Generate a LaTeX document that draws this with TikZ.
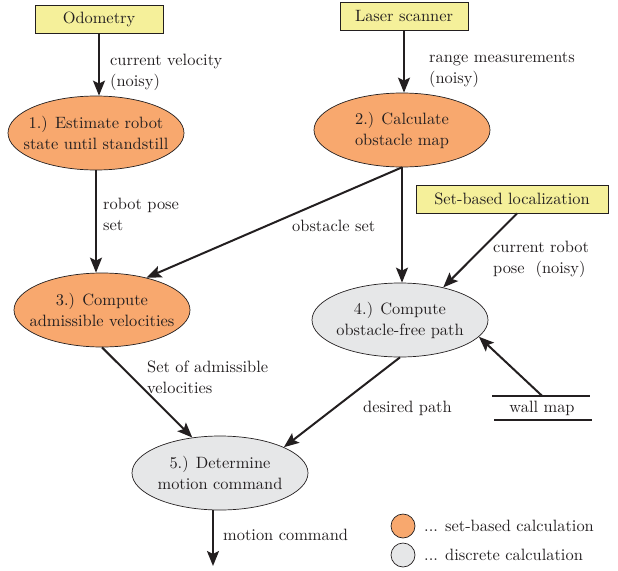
\documentclass[tikz,border=0pt]{standalone}
\usepackage{fontspec}
\setmainfont{lmroman10-regular}[Extension=.otf, BoldFont=lmroman10-bold, ItalicFont=lmroman10-italic]
\usetikzlibrary{arrows.meta,shapes.geometric,calc}
\definecolor{setorange}{RGB}{248,168,110}
\definecolor{discgray}{RGB}{230,231,232}
\definecolor{srcyellow}{RGB}{245,240,154}
\definecolor{ink}{RGB}{35,31,32}
\begin{document}
\begin{tikzpicture}[x=1pt,y=-1pt,
  every node/.style={font=\rmfamily\fontsize{16.4}{21}\selectfont, text=ink},
  srcbox/.style={draw=ink, line width=0.8pt, fill=srcyellow, minimum width=128pt, minimum height=28pt, inner xsep=8pt, inner ysep=0pt},
  proc/.style={ellipse, draw=ink, line width=0.7pt, minimum width=176pt, minimum height=74pt, inner xsep=-20pt, inner ysep=-4pt, align=center},
  setproc/.style={proc, fill=setorange},
  discproc/.style={proc, fill=discgray},
  lbl/.style={anchor=west, align=left, inner sep=0pt},
  flow/.style={draw=ink, line width=2pt, -{Stealth[length=15pt,width=12pt,inset=3pt]}},
  wallline/.style={draw=ink, line width=2pt}
]
\useasboundingbox (0,0) rectangle (618,570);

\node[srcbox] (odo) at (99,19) {Odometry};
\node[srcbox] (laser) at (404,16) {Laser scanner};
\node[srcbox, minimum width=192pt] (loc) at (512,199) {Set-based localization};

\node[setproc] (e1) at (96,133) {1.) Estimate robot\\state until standstill};
\node[setproc] (e2) at (402,130) {2.) Calculate\\obstacle map};
\node[setproc] (e3) at (102,310) {3.) Compute\\admissible velocities};
\node[discproc] (e4) at (400,320) {4.) Compute\\obstacle-free path};
\node[discproc] (e5) at (220,473) {5.) Determine\\motion command};

\node[minimum width=97pt, minimum height=24pt, inner sep=0pt] (wall) at (542,408) {wall map};
\draw[wallline] ($(wall.north west)+(-1,0)$) -- ($(wall.north east)+(-1,0)$);
\draw[wallline] ($(wall.south west)+(1,0)$) -- ($(wall.south east)+(1,0)$);

\coordinate (out) at (213,566);

% connectors
\draw[flow] (odo.south) -- (odo.south |- e1.north);
\draw[flow] (laser.south) -- (laser.south |- e2.north);
\draw[flow] (e1.south) -- (e1.south |- e3.north);
\draw[flow] (e2.south) -- (e3.36);
\draw[flow] (e2.south) -- (e2.south |- e4.north);
\draw[flow] ($(loc.south)+(5,0)$) -- (e4.37);
\draw[flow] (wall.north) -- (e4.-12);
\draw[flow] (e3.south) -- (e5.128);
\draw[flow] (e4.south) -- (e5.22);
\draw[flow] (e5.south -| out) -- (out);

% labels
\node[lbl] at (110,72) {current velocity\\(noisy)};
\node[lbl] at (429,70) {range measurements\\(noisy)};
\node[lbl] at (103,214) {robot pose\\set};
\node[lbl] at (292,226) {obstacle set};
\node[lbl] at (493,259) {current robot\\pose\ \ (noisy)};
\node[lbl] at (147,377) {Set of admissible\\velocities};
\node[lbl] at (363,408) {desired path};
\node[lbl] at (223,535) {motion command};

% legend
\node[circle, draw=ink, line width=0.7pt, fill=setorange, minimum size=24pt, inner sep=0pt] (legset) at (403,526) {};
\node[circle, draw=ink, line width=0.7pt, fill=discgray, minimum size=24pt, inner sep=0pt] (legdisc) at (403,555) {};
\node[lbl] (legsettxt) at (424,526) {... set-based calculation};
\node[lbl] (legdisctxt) at (424,555) {... discrete calculation};
\end{tikzpicture}
\end{document}
